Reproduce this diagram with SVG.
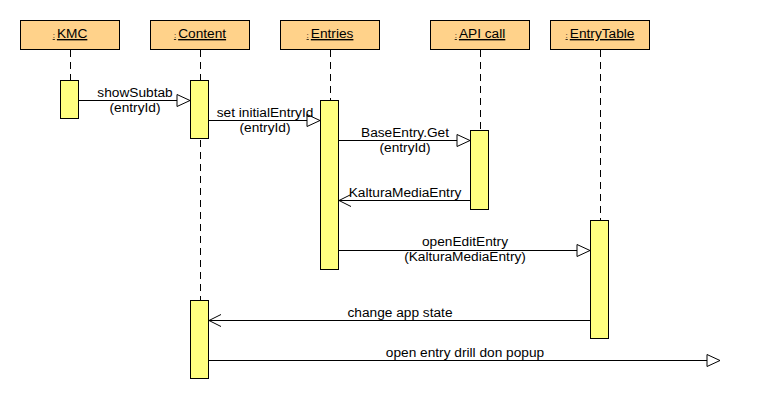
<svg xmlns="http://www.w3.org/2000/svg" width="760" height="400" viewBox="0 0 760 400">
<style>
.hdr{fill:#FFD28A;stroke:#000;stroke-width:1}
.act{fill:#FFFF80;stroke:#000;stroke-width:1}
.life{stroke:#000;stroke-width:1;stroke-dasharray:7,5;fill:none}
.msg{stroke:#000;stroke-width:1;fill:none}
.call{marker-end:url(#tri)}
.ret{marker-end:url(#open)}
text{font-family:"Liberation Sans",Arial,sans-serif;font-size:13.7px;fill:#000;text-anchor:middle}
.name{text-decoration:underline}
.colon{font-size:8px}
</style>
<defs>
<marker id="tri" markerUnits="userSpaceOnUse" markerWidth="15" markerHeight="14" refX="13" refY="6" orient="auto" overflow="visible">
<path d="M0,0 L13,6 L0,12 Z" fill="#fff" stroke="#000" stroke-width="1"/>
</marker>
<marker id="open" markerUnits="userSpaceOnUse" markerWidth="14" markerHeight="14" refX="12" refY="6" orient="auto" overflow="visible">
<path d="M0,0 L12,6 L0,12" fill="none" stroke="#000" stroke-width="1"/>
</marker>
</defs>

<g id="lifelines">
<line class="life" x1="70.5" y1="50" x2="70.5" y2="80"/>
<line class="life" x1="200.5" y1="50" x2="200.5" y2="80"/>
<line class="life" x1="200.5" y1="140" x2="200.5" y2="300"/>
<line class="life" x1="330.5" y1="50" x2="330.5" y2="100"/>
<line class="life" x1="480.5" y1="50" x2="480.5" y2="130"/>
<line class="life" x1="600.5" y1="50" x2="600.5" y2="220"/>
</g>

<g id="KMC">
<rect class="hdr" x="20.5" y="20.5" width="99" height="29"/>
<text class="name" x="70" y="38"><tspan class="colon">:</tspan><tspan dx="2">KMC</tspan></text>
<rect class="act" x="60.5" y="80.5" width="18" height="38"/>
</g>

<g id="Content">
<rect class="hdr" x="150.5" y="20.5" width="99" height="29"/>
<text class="name" x="200" y="38"><tspan class="colon">:</tspan><tspan dx="2">Content</tspan></text>
<rect class="act" x="190.5" y="80.5" width="18" height="58"/>
<rect class="act" x="190.5" y="300.5" width="18" height="78"/>
</g>

<g id="Entries">
<rect class="hdr" x="280.5" y="20.5" width="99" height="29"/>
<text class="name" x="330" y="38"><tspan class="colon">:</tspan><tspan dx="2">Entries</tspan></text>
<rect class="act" x="320.5" y="100.5" width="18" height="169"/>
</g>

<g id="APIcall">
<rect class="hdr" x="430.5" y="20.5" width="99" height="29"/>
<text class="name" x="480" y="38"><tspan class="colon">:</tspan><tspan dx="2">API call</tspan></text>
<rect class="act" x="470.5" y="130.5" width="18" height="79"/>
</g>

<g id="EntryTable">
<rect class="hdr" x="550.5" y="20.5" width="99" height="29"/>
<text class="name" x="600" y="38"><tspan class="colon">:</tspan><tspan dx="2">EntryTable</tspan></text>
<rect class="act" x="590.5" y="220.5" width="18" height="118"/>
</g>

<g id="connectors">
<line class="msg call" x1="79" y1="100.5" x2="190" y2="100.5"/>
<text x="135" y="97">showSubtab</text>
<text x="135" y="112">(entryId)</text>

<line class="msg call" x1="209" y1="120.5" x2="320" y2="120.5"/>
<text x="265" y="117">set initialEntryId</text>
<text x="265" y="132">(entryId)</text>

<line class="msg call" x1="339" y1="140.5" x2="470" y2="140.5"/>
<text x="405" y="137">BaseEntry.Get</text>
<text x="405" y="152">(entryId)</text>

<line class="msg ret" x1="470" y1="200.5" x2="339" y2="200.5"/>
<text x="405" y="197">KalturaMediaEntry</text>

<line class="msg call" x1="339" y1="250.5" x2="590" y2="250.5"/>
<text x="465" y="246">openEditEntry</text>
<text x="465" y="261">(KalturaMediaEntry)</text>

<line class="msg ret" x1="590" y1="320.5" x2="209" y2="320.5"/>
<text x="400" y="317">change app state</text>

<line class="msg call" x1="209" y1="360.5" x2="720" y2="360.5"/>
<text x="465" y="357">open entry drill don popup</text>
</g>
</svg>
